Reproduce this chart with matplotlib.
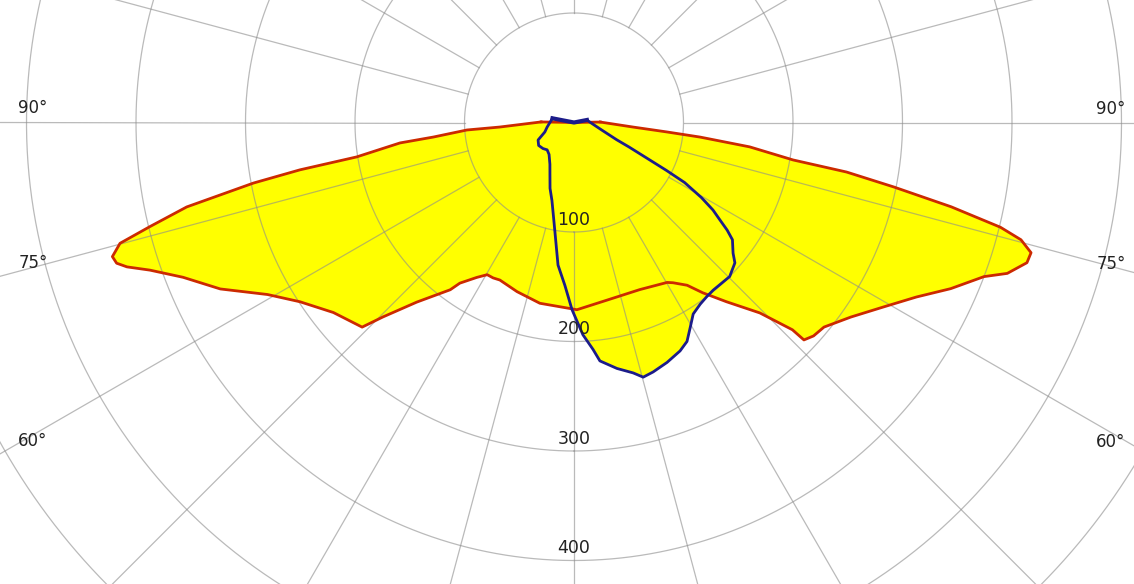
import numpy as np
import matplotlib
matplotlib.use("Agg")
import matplotlib.pyplot as plt

# ---- data (angle from nadir in degrees, left negative; intensity value) ----
red_theta = [-92, -91, -86.5, -86, -84.1, -83.3, -81, -80.2, -79.3, -77.7, -76.2, -75.1,
             -73.8, -72.9, -72.1, -70.8, -68.4, -64.8, -60.7, -56.8, -51.7, -46, -44.5,
             -41.2, -36.5, -35.4, -32.1, -29.7, -27.5, -25.2, -18.6, -10.7, -2.2, 0.9,
             10.5, 21.5, 30.2, 31.7, 34.8, 37.1, 40.4, 44.3, 46.5, 46.6, 48.3, 50.7,
             54.9, 59.2, 63, 66.2, 69.4, 70.8, 72.8, 74.1, 75.3, 76.2, 77.4, 78.6,
             79.7, 80.3, 82.1, 83.4, 84.2, 85.6, 91, 92]
red_val = [0, 30, 68, 98, 129, 160, 201, 254, 298, 362, 399, 429,
           439, 437, 429, 410, 384, 357, 321, 299, 280, 269, 249,
           218, 190, 180, 167, 160, 160, 159, 163, 168, 169.5, 171,
           165, 164, 169, 172, 181, 195, 215, 243, 275, 289, 293, 295,
           309, 329, 351, 376, 400, 419, 433, 434, 422, 401, 353, 298,
           253, 203, 162, 116, 85, 54, 24, 0]

blue_theta = [-105, -101, -90, -80, -72, -64, -57, -50, -44.5, -38, -30, -25, -20,
              -15.8, -12.5, -9.8, -6.4, -3.2, -0.6, 2.4, 4.8, 6.2, 9.9, 13.3, 15.2,
              17.6, 21.2, 24.9, 27.3, 29.6, 31.9, 34.8, 37.3, 39.7, 45.3, 48.9, 50.6,
              53.5, 54.9, 56.3, 57.8, 59.5, 61.5, 62.6, 63.7, 66, 68, 75, 90, 101, 105]
blue_val = [0, 20, 22, 25, 28, 36.5, 38.5, 37, 35, 37, 44, 52, 64,
            74, 87, 102, 131, 149, 171, 194, 208, 219, 228, 235, 241,
            239, 235, 230, 225, 215, 206, 202, 200, 199, 200, 195, 188,
            180, 171, 160, 150, 135, 115, 95, 77, 55, 42, 26, 15, 12, 0]

ring_values = [100, 200, 300, 400, 500, 600]
ring_labels = [100, 200, 300, 400]
spoke_angles = list(range(0, 360, 15))
angle_labels = ["90°", "75°", "60°"]

# ---- layout ----
W, H = 1134, 584
cx, cy = 574, 122.5          # pole position in pixels (from top-left)
px_per_unit = 1.095
rmax = 700
R = rmax * px_per_unit

fig = plt.figure(figsize=(W / 100, H / 100), dpi=100)
fig.patch.set_facecolor("white")
ax = fig.add_axes([(cx - R) / W, (H - cy - R) / H, 2 * R / W, 2 * R / H],
                  projection="polar")
ax.set_theta_zero_location("S")
ax.set_theta_direction(1)
ax.set_ylim(0, rmax)
ax.set_xticks([])
ax.set_yticks([])
ax.grid(False)
ax.spines["polar"].set_visible(False)

# fills
rt = np.radians(red_theta)
bt = np.radians(blue_theta)
ax.fill(rt, red_val, color="#ffff00", lw=0, zorder=1)
ax.fill(bt, blue_val, color="#ffff00", lw=0, zorder=1)

# grid
gridc = "#8c8c8c"
tt = np.linspace(0, 2 * np.pi, 1441)
for rv in ring_values:
    ax.plot(tt, np.full_like(tt, rv), color=gridc, lw=0.9, alpha=0.6, zorder=2)
for a in spoke_angles:
    ax.plot([np.radians(a)] * 2, [100, rmax], color=gridc, lw=0.9, alpha=0.6, zorder=2)

# curves
ax.plot(rt[1:-1], red_val[1:-1], color="#cc2a00", lw=2.0, zorder=4,
        solid_joinstyle="round")
ax.plot([rt[1], 0, rt[-2]], [red_val[1], 0, red_val[-2]], color="#cc2a00", lw=2.0, zorder=4)
ax.plot(bt[1:-1], blue_val[1:-1], color="#1c1c8a", lw=2.0, zorder=5,
        solid_joinstyle="round")
ax.plot([bt[1], 0, bt[-2]], [blue_val[1], 0, blue_val[-2]], color="#1c1c8a", lw=3.0, zorder=5)

# ring labels
for v in ring_labels:
    ax.text(0, v - 11, str(v), ha="center", va="center", fontsize=12.5,
            color="#222222", zorder=6)

# angle labels
left_pos = [(33, 108), (33, 263), (33, 441)]
right_pos = [(1111, 109), (1111, 264), (1111, 442)]
for lab, (x, y) in zip(angle_labels, left_pos):
    fig.text(x / W, 1 - y / H, lab, ha="center", va="center", fontsize=12, color="#222222")
for lab, (x, y) in zip(angle_labels, right_pos):
    fig.text(x / W, 1 - y / H, lab, ha="center", va="center", fontsize=12, color="#222222")

fig.savefig("out.png", dpi=100, facecolor="white")
